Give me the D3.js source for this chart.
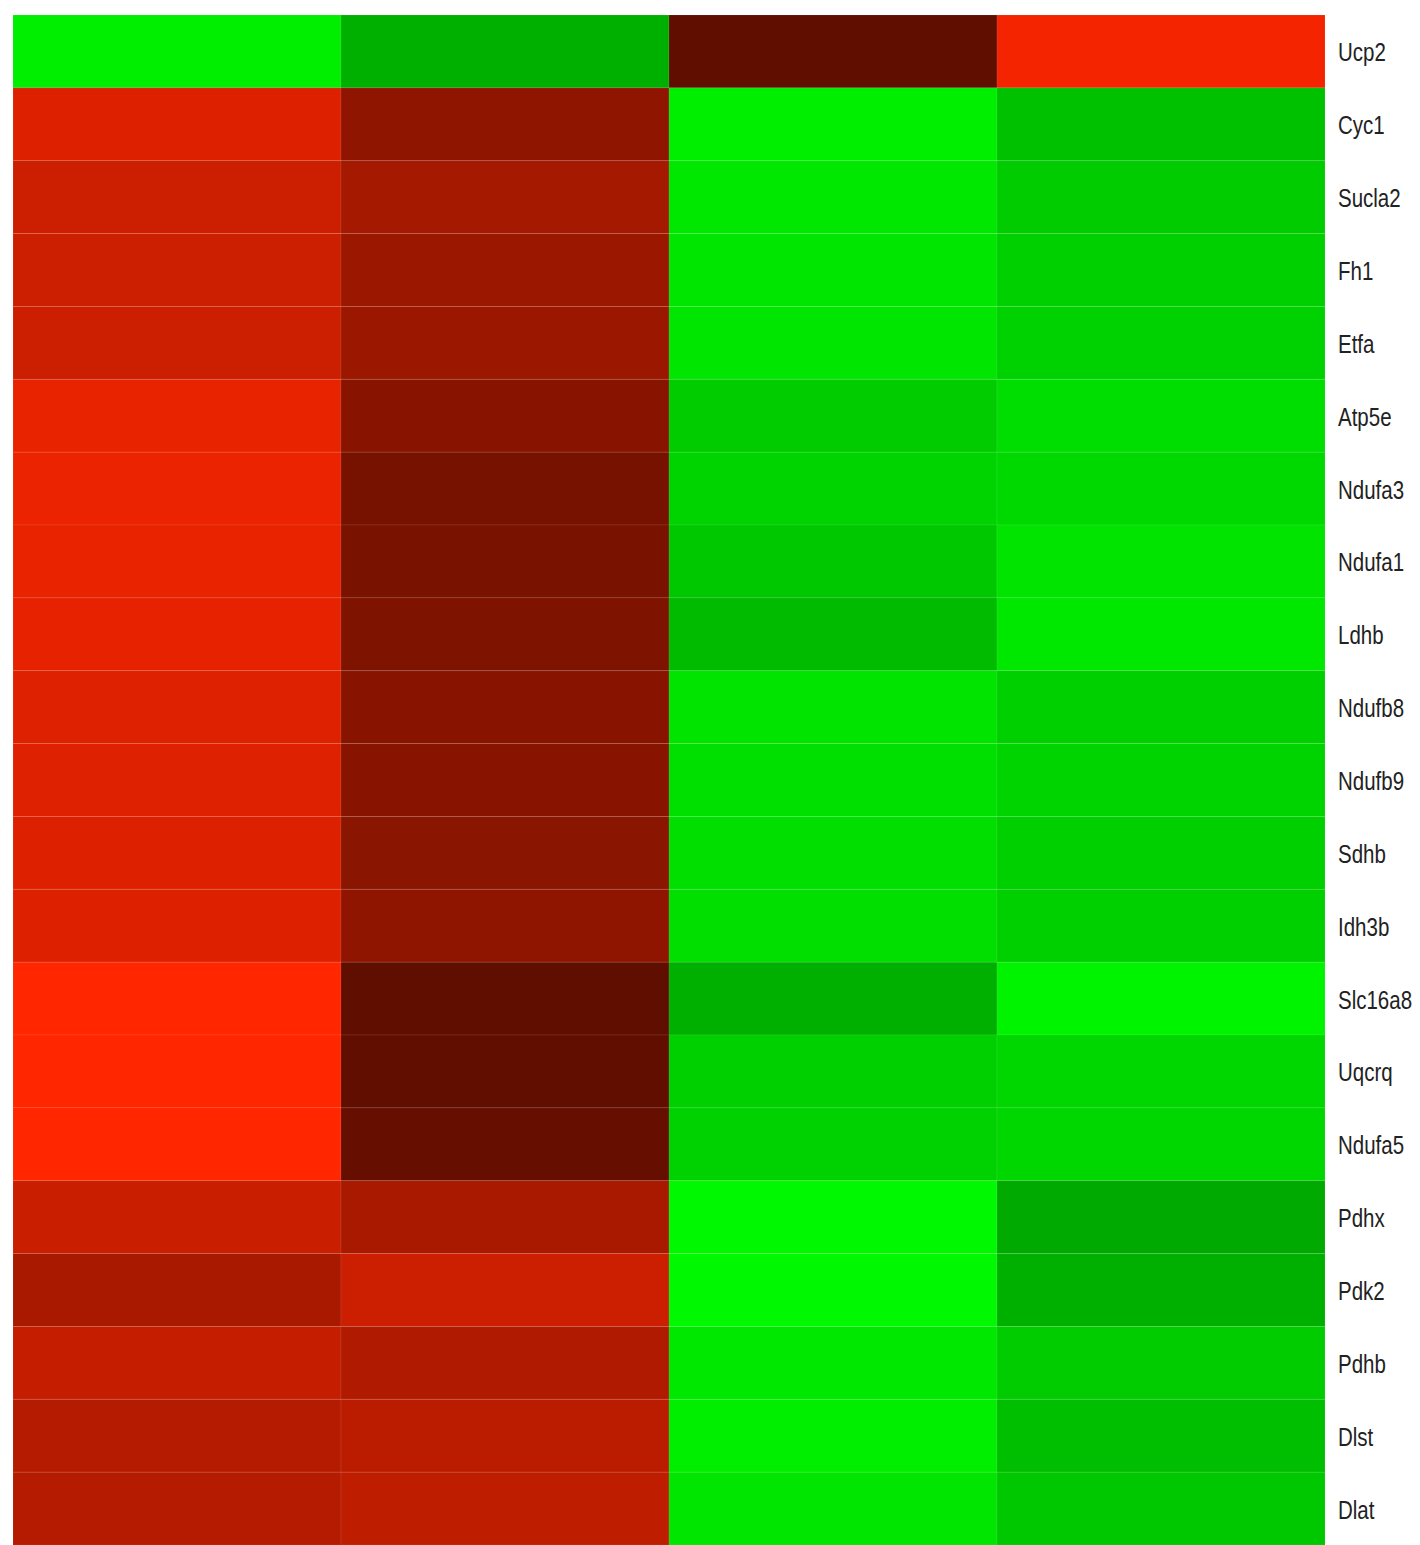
<!DOCTYPE html>
<html>
<head>
<meta charset="utf-8">
<script src="https://cdn.jsdelivr.net/npm/d3@7"></script>
<style>
  html, body { margin: 0; padding: 0; background: #ffffff; }
  svg { display: block; }
</style>
</head>
<body>
<svg id="chart" width="1420" height="1545"></svg>
<script>
// Gene labels (rows, top to bottom)
const genes = ["Ucp2","Cyc1","Sucla2","Fh1","Etfa","Atp5e","Ndufa3","Ndufa1","Ldhb","Ndufb8",
  "Ndufb9","Sdhb","Idh3b","Slc16a8","Uqcrq","Ndufa5","Pdhx","Pdk2","Pdhb","Dlst","Dlat"];
// Sample columns (unlabelled in the figure)
const samples = ["S1","S2","S3","S4"];
// Expression values (z-score-like), one array per column
const col1 = [-1.87, 1.73, 1.60, 1.60, 1.60, 1.82, 1.85, 1.83, 1.80, 1.74, 1.74, 1.73, 1.73, 2.00, 2.00, 2.00, 1.58, 1.32, 1.54, 1.41, 1.41];
const col2 = [-1.38, 1.13, 1.29, 1.22, 1.22, 1.07, 0.94, 0.96, 0.99, 1.07, 1.07, 1.08, 1.12, 0.75, 0.76, 0.80, 1.32, 1.60, 1.38, 1.47, 1.50];
const col3 = [ 0.75,-1.87,-1.82,-1.80,-1.80,-1.60,-1.66,-1.57,-1.47,-1.79,-1.76,-1.75,-1.75,-1.38,-1.62,-1.64,-1.95,-1.95,-1.82,-1.87,-1.80];
const col4 = [ 1.92,-1.51,-1.60,-1.62,-1.64,-1.73,-1.70,-1.79,-1.82,-1.62,-1.66,-1.62,-1.62,-1.91,-1.68,-1.68,-1.33,-1.38,-1.60,-1.49,-1.57];
const columns = [col1, col2, col3, col4];

const cells = [];
genes.forEach((g, i) => samples.forEach((s, j) => cells.push({gene: g, sample: s, value: columns[j][i]})));

const svg = d3.select("#chart");
const gridLeft = 13, gridRight = 1325, gridTop = 15, gridBottom = 1545;

const x = d3.scaleBand().domain(samples).range([gridLeft, gridRight]).padding(0);
const y = d3.scaleBand().domain(genes).range([gridTop, gridBottom]).padding(0);
const color = d3.scaleLinear().domain([-2, 0, 2]).range(["#00ff00", "#000000", "#ff2600"])
  .interpolate(d3.interpolateRgb).clamp(true);

svg.append("g").selectAll("rect").data(cells).join("rect")
  .attr("x", d => x(d.sample))
  .attr("y", d => y(d.gene))
  .attr("width", x.bandwidth())
  .attr("height", y.bandwidth())
  .attr("fill", d => color(d.value))
  .attr("stroke", "rgba(255,255,255,0.08)")
  .attr("stroke-width", 1);

const labelX = gridRight + 13;
svg.append("g").selectAll("text").data(genes).join("text")
  .attr("transform", d => `translate(${labelX},${y(d) + y.bandwidth() / 2 + 10}) scale(0.82,1.05)`)
  .attr("font-family", "Liberation Sans, Arial, sans-serif")
  .attr("font-size", 25)
  .attr("fill", "#222222")
  .text(d => d);
</script>
</body>
</html>
